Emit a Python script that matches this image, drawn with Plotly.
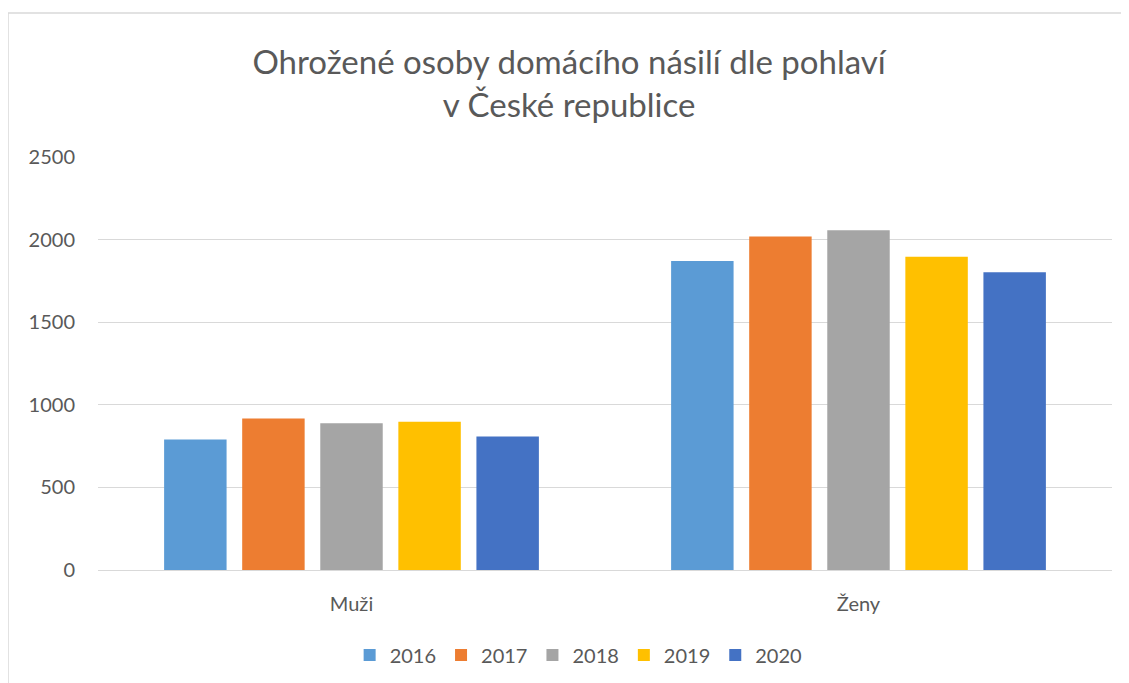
import plotly.graph_objects as go

# Categories and yearly values
categories = ["Muži", "Ženy"]
years = ["2016", "2017", "2018", "2019", "2020"]
values_2016 = [790, 1870]
values_2017 = [917, 2019]
values_2018 = [889, 2057]
values_2019 = [897, 1896]
values_2020 = [808, 1803]
y_ticks = [0, 500, 1000, 1500, 2000, 2500]

series = [values_2016, values_2017, values_2018, values_2019, values_2020]
colors = ["#5B9BD5", "#ED7D31", "#A5A5A5", "#FFC000", "#4472C4"]

font_family = "Lato, 'Open Sans', sans-serif"
text_color = "#595959"

fig = go.Figure()
for year, vals, color in zip(years, series, colors):
    fig.add_trace(go.Bar(x=categories, y=vals, name=year, marker=dict(color=color, line=dict(width=0))))

# the page adds an 8px body margin, so margins are offset by 8
fig.update_layout(
    width=1129,
    height=683,
    margin=dict(l=90, r=25, t=149, b=121),
    barmode="group",
    bargap=0.23,
    bargroupgap=0.2,
    plot_bgcolor="white",
    paper_bgcolor="white",
    font=dict(family=font_family, color=text_color, size=20),
    title=dict(
        text="Ohrožené osoby domácího násilí dle pohlaví<br>v České republice",
        x=0.497, xref="container", xanchor="center",
        y=1 - 66 / 683, yref="container", yanchor="middle",
        font=dict(size=33, color=text_color, family=font_family),
    ),
    legend=dict(
        orientation="h",
        x=0.474, xanchor="center",
        y=-0.206, yanchor="middle",
        font=dict(size=20, color=text_color),
        itemwidth=30,
        traceorder="normal",
    ),
    xaxis=dict(
        showgrid=False,
        showline=True,
        linecolor="#D9D9D9",
        linewidth=1,
        ticks="",
        ticklabelstandoff=16,
        tickfont=dict(size=20, color=text_color),
    ),
    yaxis=dict(
        range=[0, 2500],
        tickvals=y_ticks,
        showgrid=True,
        gridcolor="#D9D9D9",
        gridwidth=1,
        zeroline=False,
        showline=False,
        ticks="",
        ticklabelstandoff=22,
        tickfont=dict(size=20, color=text_color),
    ),
    shapes=[
        # chart-area frame (left and top edges visible)
        dict(type="line", xref="paper", yref="paper",
             x0=(8 - 98) / 1014, x1=(1130 - 98) / 1014,
             y0=(570 - 13) / 413, y1=(570 - 13) / 413,
             line=dict(color="#D9D9D9", width=1.5)),
        dict(type="line", xref="paper", yref="paper",
             x0=(8 - 98) / 1014, x1=(8 - 98) / 1014,
             y0=(570 - 13) / 413, y1=(570 - 690) / 413,
             line=dict(color="#D9D9D9", width=1.5)),
    ],
)

fig.write_html("out.html")
